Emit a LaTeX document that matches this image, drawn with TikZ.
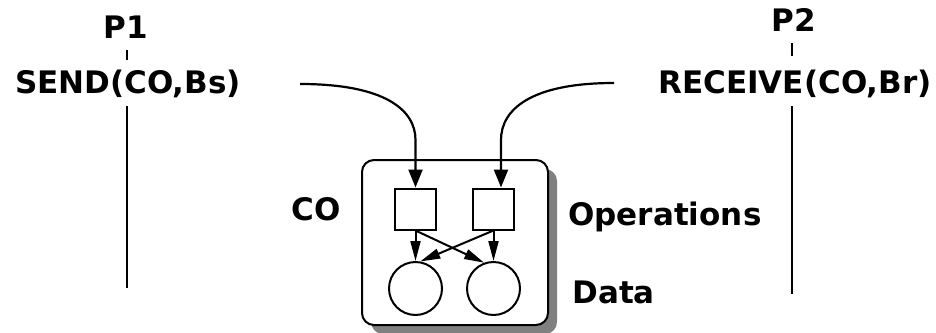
\documentclass[tikz,border=0pt]{standalone}
\usepackage{fontspec}
\setmainfont{DejaVu Sans}
\usetikzlibrary{arrows.meta,shadows}

\begin{document}
\begin{tikzpicture}[x=0.5pt,y=-0.5pt,
    lbl/.style={font=\fontsize{15.5}{18}\selectfont\bfseries,inner sep=1pt,anchor=base},
    opbox/.style={draw,line width=1pt,minimum size=20.5pt,inner sep=0pt},
    datum/.style={draw,circle,line width=1pt,minimum size=26.5pt,inner sep=0pt},
    life/.style={line width=1.1pt},
    msg/.style={line width=1.1pt,-{Triangle[length=9pt,width=7pt]}},
    acc/.style={line width=1pt,-{Triangle[length=10pt,width=5pt]}}]
  \useasboundingbox (0,0) rectangle (936,332);
  % the communication object
  \node (obj) at (455,242.5) [draw,line width=1pt,rounded corners=6pt,
    minimum width=93pt,minimum height=82.5pt,fill=white,
    drop shadow={shadow xshift=4.5pt,shadow yshift=-4.5pt,fill=gray,opacity=1}] {};
  \draw
    (126,38) node[lbl] (p1){P1}
    (128,93) node[lbl] (send){SEND(CO,Bs)}
    (794,32) node[lbl] (p2){P2}
    (795,93) node[lbl] (recv){RECEIVE(CO,Br)}
    (316.5,220) node[lbl] (co){CO}
    (566,225) node[lbl,anchor=base west] (ops){Operations}
    (570,303) node[lbl,anchor=base west] (data){Data}
    (415.5,209) node[opbox] (opA){}
    (493.5,209) node[opbox] (opB){}
    (415.5,288.5) node[datum] (datA){}
    (493.5,288.5) node[datum] (datB){};
  \coordinate (p1end) at (127,288);
  \coordinate (p2end) at (792,294);
  \coordinate (sendout) at (300,84);
  \coordinate (recvin) at (614,83);
  % life lines
  \begin{scope}[life]
    \draw[shorten <=5pt,shorten >=11.5pt] (p1end |- p1.south) to (p1end |- send);
    \draw[shorten <=4.5pt,shorten >=13.5pt] (p2end |- p2.south) to (p2end |- recv);
    \draw[shorten <=3pt] (p1end |- send.south) to (p1end);
    \draw[shorten <=3pt] (p2end |- recv.south) to (p2end);
  \end{scope}
  % calls into the object
  \draw[msg] (sendout) .. controls (385,84) and (415.5,110) .. (415.5,140) -- (opA);
  \draw[msg] (recvin) .. controls (530,83) and (501,110) .. (501,140) -- ([xshift=3.75pt]opB.north);
  % operations on the data
  \begin{scope}[acc]
    \draw (opA.south) to (datA);
    \draw (opA.south) to (datB.110);
    \draw (opB.south) to (datB);
    \draw (opB.south) to (datA.80);
  \end{scope}
\end{tikzpicture}
\end{document}
